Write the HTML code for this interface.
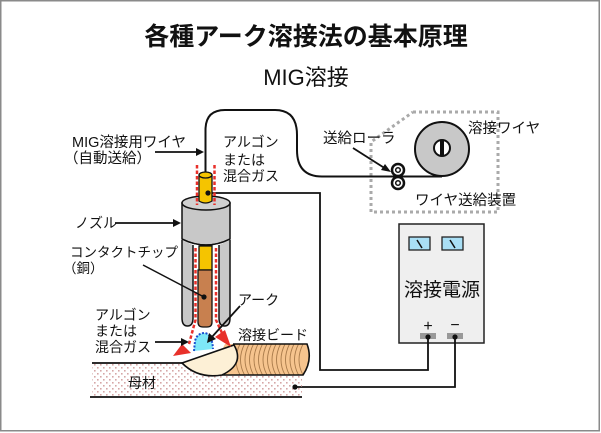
<!DOCTYPE html>
<html><head><meta charset="utf-8"><style>
html,body{margin:0;padding:0;background:#fff;}
svg{display:block;}
text{font-family:"Liberation Sans","Noto Sans CJK JP",sans-serif;fill:#111;}
</style></head><body>
<svg width="601" height="433" viewBox="0 0 601 433" xmlns="http://www.w3.org/2000/svg">
<defs>
<pattern id="dots" width="6" height="6" patternUnits="userSpaceOnUse">
<rect x="1" y="1" width="1.6" height="1.6" fill="#d6a6a6"/>
<rect x="4" y="4" width="1.6" height="1.6" fill="#d6a6a6"/>
</pattern>
<clipPath id="beadclip"><path d="M225,344 H307 Q313,360 303,375 H210 Z"/></clipPath>
</defs>
<rect x="0.75" y="0.75" width="598.5" height="430" fill="#fff" stroke="#8a8a8a" stroke-width="1.5"/>

<text x="306" y="45" font-size="25" font-weight="bold" text-anchor="middle">各種アーク溶接法の基本原理</text>
<text x="306" y="85" font-size="22" text-anchor="middle">MIG溶接</text>

<!-- feed device dotted frame -->
<path d="M413,112 H498 V212 H371 V142 L413,112" fill="none" stroke="#aaaaaa" stroke-width="3" stroke-dasharray="3 3"/>

<!-- wire path -->
<path d="M205.5,175 V130 Q205.5,110 225,110 H275 Q297,110 297,135 V150 Q297,176.5 322,176.5 H442" fill="none" stroke="#111" stroke-width="2"/>

<!-- spool -->
<circle cx="442" cy="149" r="27" fill="#c8c8c8" stroke="#111" stroke-width="2"/>
<circle cx="442" cy="148" r="8" fill="#fff" stroke="#111" stroke-width="2"/>
<rect x="440" y="140" width="4" height="16" fill="#111"/>

<!-- rollers -->
<circle cx="398" cy="170" r="6" fill="#fff" stroke="#111" stroke-width="2.5"/>
<circle cx="398" cy="170" r="2.3" fill="#fff" stroke="#111" stroke-width="1.5"/>
<circle cx="398" cy="183" r="6" fill="#fff" stroke="#111" stroke-width="2.5"/>
<circle cx="398" cy="183" r="2.3" fill="#fff" stroke="#111" stroke-width="1.5"/>

<text x="323" y="143" font-size="14.5">送給ローラ</text>
<line x1="353" y1="148" x2="386" y2="169" stroke="#111" stroke-width="1.8"/>
<polygon points="391,172 381,170 385,164" fill="#111"/>
<text x="468" y="133" font-size="14.5">溶接ワイヤ</text>
<text x="415" y="205" font-size="14.5">ワイヤ送給装置</text>

<!-- power source -->
<rect x="399" y="224" width="85" height="119" fill="#efefef" stroke="#222" stroke-width="1.5"/>
<rect x="409" y="237" width="21" height="13" fill="#a9dff5" stroke="#222" stroke-width="1.3"/>
<line x1="417" y1="240" x2="422" y2="248" stroke="#111" stroke-width="1.5"/>
<rect x="442" y="237" width="21" height="13" fill="#a9dff5" stroke="#222" stroke-width="1.3"/>
<line x1="450" y1="240" x2="455" y2="248" stroke="#111" stroke-width="1.5"/>
<text x="442" y="296" font-size="19" text-anchor="middle">溶接電源</text>
<text x="428" y="331" font-size="16" text-anchor="middle">+</text>
<text x="455" y="330" font-size="16" text-anchor="middle">−</text>
<rect x="420" y="333" width="16" height="6" fill="#999"/>
<rect x="447" y="333" width="16" height="6" fill="#999"/>

<!-- cables -->
<path d="M208,193 H320 V370 H428 V337" fill="none" stroke="#111" stroke-width="1.8"/>
<path d="M295,387 H455 V337" fill="none" stroke="#111" stroke-width="1.8"/>
<circle cx="428" cy="337" r="2.6" fill="#111"/>
<circle cx="455" cy="337" r="2.6" fill="#111"/>

<!-- plate -->
<rect x="92" y="363" width="210" height="34" fill="url(#dots)"/>
<line x1="92" y1="363" x2="183" y2="363" stroke="#111" stroke-width="1.8"/>
<line x1="90" y1="397" x2="302" y2="397" stroke="#111" stroke-width="1.8"/>
<circle cx="295" cy="387" r="2.6" fill="#111"/>
<text x="128" y="388" font-size="14">母材</text>

<!-- bead -->
<path d="M225,344 H307 Q313,360 303,375 H210 Z" fill="#f6c48e"/>
<g clip-path="url(#beadclip)" stroke="#a87a4a" stroke-width="0.9" fill="none">
<path d="M240,344 Q232,360 240,375"/><path d="M244.5,344 Q236.5,360 244.5,375"/>
<path d="M249,344 Q241,360 249,375"/><path d="M253.5,344 Q245.5,360 253.5,375"/>
<path d="M258,344 Q250,360 258,375"/><path d="M262.5,344 Q254.5,360 262.5,375"/>
<path d="M267,344 Q259,360 267,375"/><path d="M271.5,344 Q263.5,360 271.5,375"/>
<path d="M276,344 Q268,360 276,375"/><path d="M280.5,344 Q272.5,360 280.5,375"/>
<path d="M285,344 Q277,360 285,375"/><path d="M289.5,344 Q281.5,360 289.5,375"/>
<path d="M294,344 Q286,360 294,375"/><path d="M298.5,344 Q290.5,360 298.5,375"/>
<path d="M303,344 Q295,360 303,375"/>
</g>
<path d="M233,344 H307 Q313,360 303,375 H212" fill="none" stroke="#111" stroke-width="1.6"/>
<text x="238" y="340" font-size="14">溶接ビード</text>

<!-- arc -->
<path d="M194,351 L195,341 Q197,333 205,333 Q212,334 213,349" fill="#7ee8f8" stroke="#1a4fd0" stroke-width="2" stroke-dasharray="2 1.5"/>
<!-- crater -->
<path d="M182,363 L234,345 Q245,364 222,375 Q198,379 182,363 Z" fill="#fdf0d6" stroke="#111" stroke-width="1.6"/>

<!-- nozzle upper -->
<path d="M182,203 V239 Q206,251 230,239 V203 Z" fill="#c8c8c8" stroke="#111" stroke-width="1.5"/>
<ellipse cx="206" cy="203" rx="24" ry="7" fill="#d0d0d0" stroke="#111" stroke-width="1.5"/>
<!-- nozzle lower walls -->
<path d="M182,240 V318 Q182,326 187.5,326 Q193,326 193,318 V245" fill="#c8c8c8" stroke="#111" stroke-width="1.5"/>
<path d="M219,245 V318 Q219,326 224.5,326 Q230,326 230,318 V240" fill="#c8c8c8" stroke="#111" stroke-width="1.5"/>
<path d="M182,239 Q206,251 230,239" fill="none" stroke="#111" stroke-width="1.5"/>
<!-- inner wire + copper tip -->
<rect x="199" y="246" width="13" height="24" fill="#f5c400" stroke="#111" stroke-width="1.3"/>
<path d="M198,270 H212 V322 Q212,327 207,327 H203 Q198,327 198,322 Z" fill="#c8804f" stroke="#111" stroke-width="1.3"/>
<!-- wire above nozzle -->
<path d="M199,175 V201 Q205.5,205 212,201 V175" fill="#f5c400" stroke="#111" stroke-width="1.3"/>
<ellipse cx="205.5" cy="175" rx="6.5" ry="3" fill="#f5c400" stroke="#111" stroke-width="1.3"/>
<circle cx="208" cy="193" r="2.6" fill="#111"/>

<!-- red gas lines -->
<g stroke="#e8302a" stroke-width="2.5" stroke-dasharray="3.5 2" fill="none">
<line x1="197" y1="165" x2="197" y2="205"/>
<line x1="214.5" y1="165" x2="214.5" y2="205"/>
<path d="M195.5,248 V320 L189,344"/>
<path d="M216,248 V320 L222,333"/>
</g>
<polygon points="173,356 182,344 191,353" fill="#e8302a"/>
<polygon points="215,337 225,330 231,347" fill="#e8302a"/>

<!-- dot on copper -->
<circle cx="204" cy="297" r="2.6" fill="#111"/>

<!-- labels left -->
<text x="72" y="147" font-size="14.5">MIG溶接用ワイヤ</text>
<text x="64" y="163" font-size="14.5">（自動送給）</text>
<line x1="155" y1="152" x2="197" y2="152" stroke="#111" stroke-width="1.8"/>
<polygon points="204,152 196,148 196,156" fill="#111"/>

<text x="223" y="147" font-size="14">アルゴン</text>
<text x="223" y="165" font-size="14">または</text>
<text x="223" y="181" font-size="14">混合ガス</text>

<text x="75" y="228" font-size="14">ノズル</text>
<line x1="115" y1="223" x2="174" y2="223" stroke="#111" stroke-width="1.8"/>
<polygon points="181,223 173,219 173,227" fill="#111"/>

<text x="70" y="257" font-size="13.5">コンタクトチップ</text>
<text x="63" y="273" font-size="13.5">（銅）</text>
<line x1="143" y1="265" x2="204" y2="297" stroke="#111" stroke-width="1.5"/>

<text x="95" y="320" font-size="14">アルゴン</text>
<text x="95" y="336" font-size="14">または</text>
<text x="95" y="352" font-size="14">混合ガス</text>
<line x1="155" y1="342" x2="182" y2="342" stroke="#111" stroke-width="1.8"/>
<polygon points="189,342 181,338 181,346" fill="#111"/>

<text x="238" y="305" font-size="14">アーク</text>
<line x1="240" y1="306" x2="211" y2="338" stroke="#111" stroke-width="1.8"/>
<polygon points="207,343 209,333 216,339" fill="#111"/>
</svg>
</body></html>
